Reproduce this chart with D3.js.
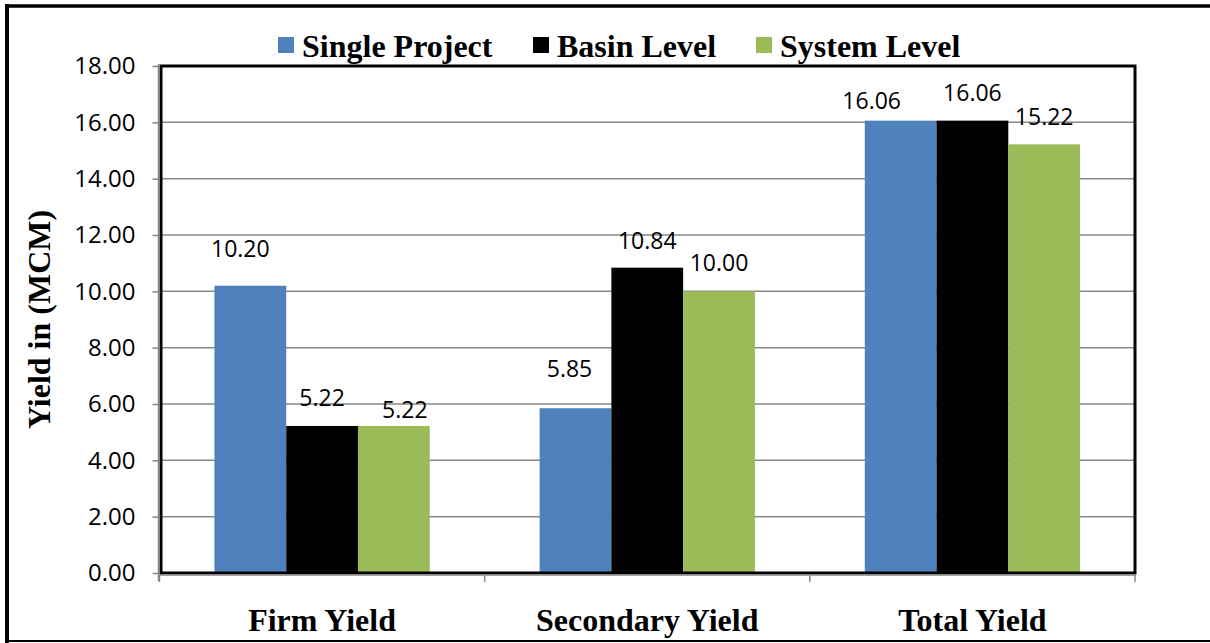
<!DOCTYPE html>
<html>
<head>
<meta charset="utf-8">
<script src="https://cdn.jsdelivr.net/npm/d3@7"></script>
<style>
  html, body { margin: 0; padding: 0; background: #fff; }
  svg { display: block; }
</style>
</head>
<body>
<svg id="chart" width="1210" height="643"></svg>
<script>
// Yield data (MCM) by yield type and planning level
const categories = ["Firm Yield", "Secondary Yield", "Total Yield"];
const seriesNames = ["Single Project", "Basin Level", "System Level"];
const singleProject = [10.20, 5.85, 16.06];
const basinLevel = [5.22, 10.84, 16.06];
const systemLevel = [5.22, 10.00, 15.22];
const yTicks = [0, 2, 4, 6, 8, 10, 12, 14, 16, 18];
const yTitle = "Yield in (MCM)";

const seriesValues = [singleProject, basinLevel, systemLevel];
const colors = ["#4F81BD", "#000000", "#9BBB59"];

// Label nudges (dx, distance of baseline above bar top), per series then category
const labelNudge = [
  [[-10, 29], [-6, 31], [-29, 12]],
  [[0, 20], [0, 19], [0, 20]],
  [[11, 8], [0, 20], [0, 19]]
];

const serif = "'Liberation Serif', 'Times New Roman', serif";
const sans = "'Open Sans', sans-serif";

const svg = d3.select("#chart");
const W = 1210, H = 643;
const plot = { left: 161, right: 1135, top: 66, bottom: 573 };

// Outer frame
const frame = svg.append("g").attr("fill", "none").attr("stroke", "#000");
frame.append("line").attr("x1", 5).attr("x2", W).attr("y1", 6).attr("y2", 6).attr("stroke-width", 3.5);
frame.append("line").attr("x1", 7).attr("x2", 7).attr("y1", 4).attr("y2", H).attr("stroke-width", 4);
frame.append("line").attr("x1", 5).attr("x2", W).attr("y1", 641).attr("y2", 641).attr("stroke-width", 2);

const y = d3.scaleLinear().domain([0, 18]).range([plot.bottom, plot.top]);
const x0 = d3.scaleBand().domain(categories).range([159.5, 1135]).paddingInner(0.338).paddingOuter(0.169);
const x1 = d3.scaleBand().domain(seriesNames).range([0, x0.bandwidth()]).padding(0);

// Gridlines
svg.append("g")
  .selectAll("line")
  .data(yTicks.filter(d => d > 0 && d < 18))
  .join("line")
  .attr("x1", plot.left).attr("x2", plot.right)
  .attr("y1", d => y(d)).attr("y2", d => y(d))
  .attr("stroke", "#878787").attr("stroke-width", 1.5);

// Bars
const bars = [];
seriesValues.forEach((vals, si) => {
  vals.forEach((v, ci) => bars.push({ si, ci, v }));
});
svg.append("g")
  .selectAll("rect")
  .data(bars)
  .join("rect")
  .attr("x", d => x0(categories[d.ci]) + x1(seriesNames[d.si]))
  .attr("width", x1.bandwidth())
  .attr("y", d => y(d.v))
  .attr("height", d => y(0) - y(d.v))
  .attr("fill", d => colors[d.si]);

// Plot border
svg.append("rect")
  .attr("x", plot.left).attr("y", plot.top)
  .attr("width", plot.right - plot.left).attr("height", plot.bottom - plot.top)
  .attr("fill", "none").attr("stroke", "#000").attr("stroke-width", 3);

// Y axis
const yAxis = svg.append("g")
  .attr("transform", "translate(158.5,0)")
  .call(d3.axisLeft(y).tickValues(yTicks).tickSize(6).tickPadding(17).tickFormat(d3.format(".2f")));
yAxis.select(".domain").attr("stroke", "#878787").attr("stroke-width", 1.5)
  .attr("d", `M0,${plot.top - 2}V${plot.bottom + 8}`);
yAxis.selectAll(".tick line").attr("stroke", "#878787").attr("stroke-width", 1.5);
yAxis.selectAll(".tick text")
  .attr("font-family", sans).attr("font-size", 24).attr("fill", "#000");

// X axis
const xAxisG = svg.append("g").attr("transform", `translate(0,${plot.bottom + 2})`);
xAxisG.append("line")
  .attr("x1", 158.5).attr("x2", plot.right + 1)
  .attr("stroke", "#878787").attr("stroke-width", 1.5);
const catBounds = [159.5, ...categories.map(c => x0(c) + x0.bandwidth() + x0.step() * 0.169)];
xAxisG.selectAll("line.tick")
  .data(catBounds)
  .join("line")
  .attr("class", "tick")
  .attr("x1", d => d).attr("x2", d => d)
  .attr("y1", 0).attr("y2", 7)
  .attr("stroke", "#878787").attr("stroke-width", 1.5);
xAxisG.selectAll("text")
  .data(categories)
  .join("text")
  .attr("x", d => x0(d) + x0.bandwidth() / 2)
  .attr("y", 56)
  .attr("text-anchor", "middle")
  .attr("font-family", serif)
  .attr("font-weight", "bold").attr("font-size", 32)
  .text(d => d);

// Y title
svg.append("text")
  .attr("transform", `translate(50,${(plot.top + plot.bottom) / 2}) rotate(-90)`)
  .attr("text-anchor", "middle")
  .attr("font-family", serif)
  .attr("font-weight", "bold").attr("font-size", 32)
  .text(yTitle);

// Data labels
svg.append("g")
  .selectAll("text")
  .data(bars)
  .join("text")
  .attr("x", d => x0(categories[d.ci]) + x1(seriesNames[d.si]) + x1.bandwidth() / 2 + labelNudge[d.si][d.ci][0])
  .attr("y", d => y(d.v) - labelNudge[d.si][d.ci][1])
  .attr("text-anchor", "middle")
  .attr("font-family", sans).attr("font-size", 23)
  .text(d => d3.format(".2f")(d.v));

// Legend
const legendX = [278, 533, 756];
const legend = svg.append("g");
seriesNames.forEach((name, i) => {
  legend.append("rect")
    .attr("x", legendX[i]).attr("y", 37).attr("width", 16).attr("height", 16)
    .attr("fill", colors[i]);
  legend.append("text")
    .attr("x", legendX[i] + 24).attr("y", 57)
    .attr("font-family", serif)
    .attr("font-weight", "bold").attr("font-size", 32)
    .text(name);
});
</script>
</body>
</html>
